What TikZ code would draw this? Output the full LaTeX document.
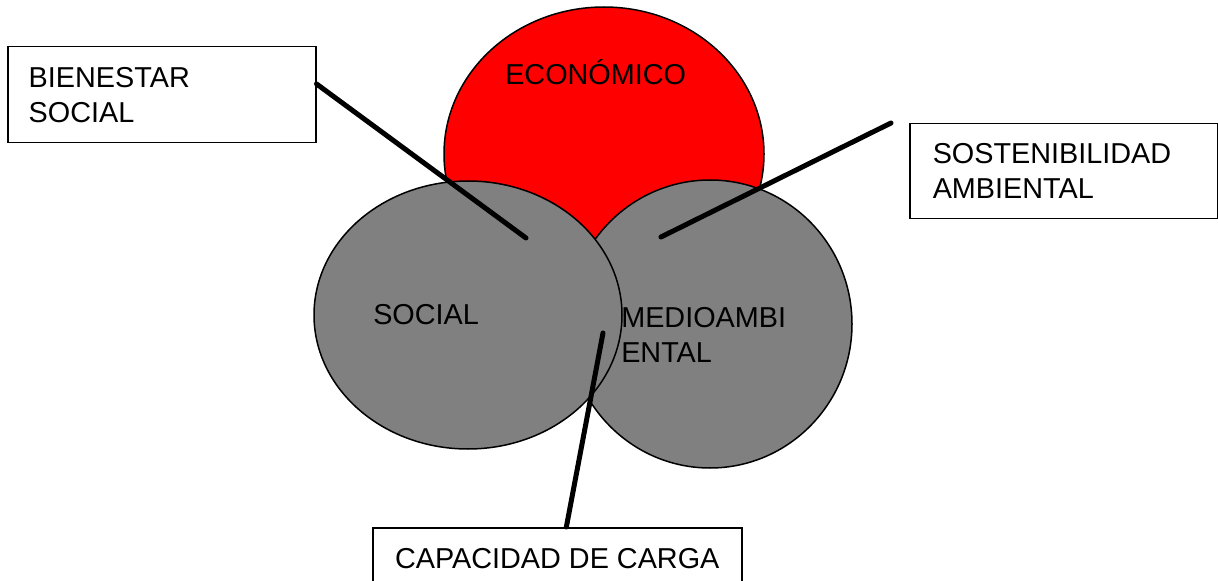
\documentclass[tikz,border=0pt]{standalone}
\usepackage{fontspec}
\setmainfont{Liberation Sans}
\usetikzlibrary{shapes.geometric}
\newlength{\du}
\setlength{\du}{0.75pt}
\newcommand{\letra}{\fontsize{21.6pt}{26.25pt}\selectfont}

\begin{document}
\begin{tikzpicture}[
  circulo/.style={ellipse,draw=black,line width=1.5\du,inner sep=0pt,outer sep=0pt},
  caja/.style={rectangle,draw=black,line width=1.5\du,fill=white,inner ysep=0pt,anchor=north west,font=\letra},
  texto/.style={inner sep=0pt,anchor=base west,font=\letra},
  linea/.style={draw=black,line width=5\du,line cap=round}]
\pgftransformxscale{1.000000}
\pgftransformyscale{-1.000000}
\definecolor{rojo}{rgb}{1.000000, 0.000000, 0.000000}
\definecolor{gris}{rgb}{0.501961, 0.501961, 0.501961}
\useasboundingbox (0\du,0\du) rectangle (1218\du,581\du);
% circulos
\node[circulo,fill=rojo,minimum width=320\du,minimum height=294\du] (eco) at (604\du,154\du) {};
\node[circulo,fill=gris,minimum width=284\du,minimum height=288\du] (med) at (710\du,324\du) {};
\node[circulo,fill=gris,minimum width=308\du,minimum height=268\du] (soc) at (468\du,315\du) {};
% textos
\node[texto] (ecotx) at (505\du,85\du) {ECONÓMICO};
\node[texto] (soctx) at (373\du,324\du) {SOCIAL};
\node[texto] (medtx) at (621\du,327\du) {\begin{tabular}[t]{@{}l@{}}MEDIOAMBI\\ENTAL\end{tabular}};
% cajas
\node[caja,align=left,text width=266\du,inner xsep=21\du,minimum height=96\du] (bien) at (7\du,46\du) {BIENESTAR\\SOCIAL};
\node[caja,align=left,text width=262\du,inner xsep=23\du,minimum height=95\du] (sost) at (909\du,123\du) {SOSTENIBILIDAD\\AMBIENTAL};
\node[caja,minimum width=369\du,minimum height=62\du] (carga) at (372\du,527\du) {CAPACIDAD DE CARGA};
% lineas
\coordinate (socpt) at (526\du,238\du);
\coordinate (medpt) at (661\du,237\du);
\coordinate (sostpt) at (891\du,123\du);
\coordinate (cargapt) at (603\du,333\du);
\draw[linea] (bien.4)--(socpt);
\draw[linea] (sostpt)--(medpt);
\draw[linea] (carga.74)--(cargapt);
\end{tikzpicture}
\end{document}
